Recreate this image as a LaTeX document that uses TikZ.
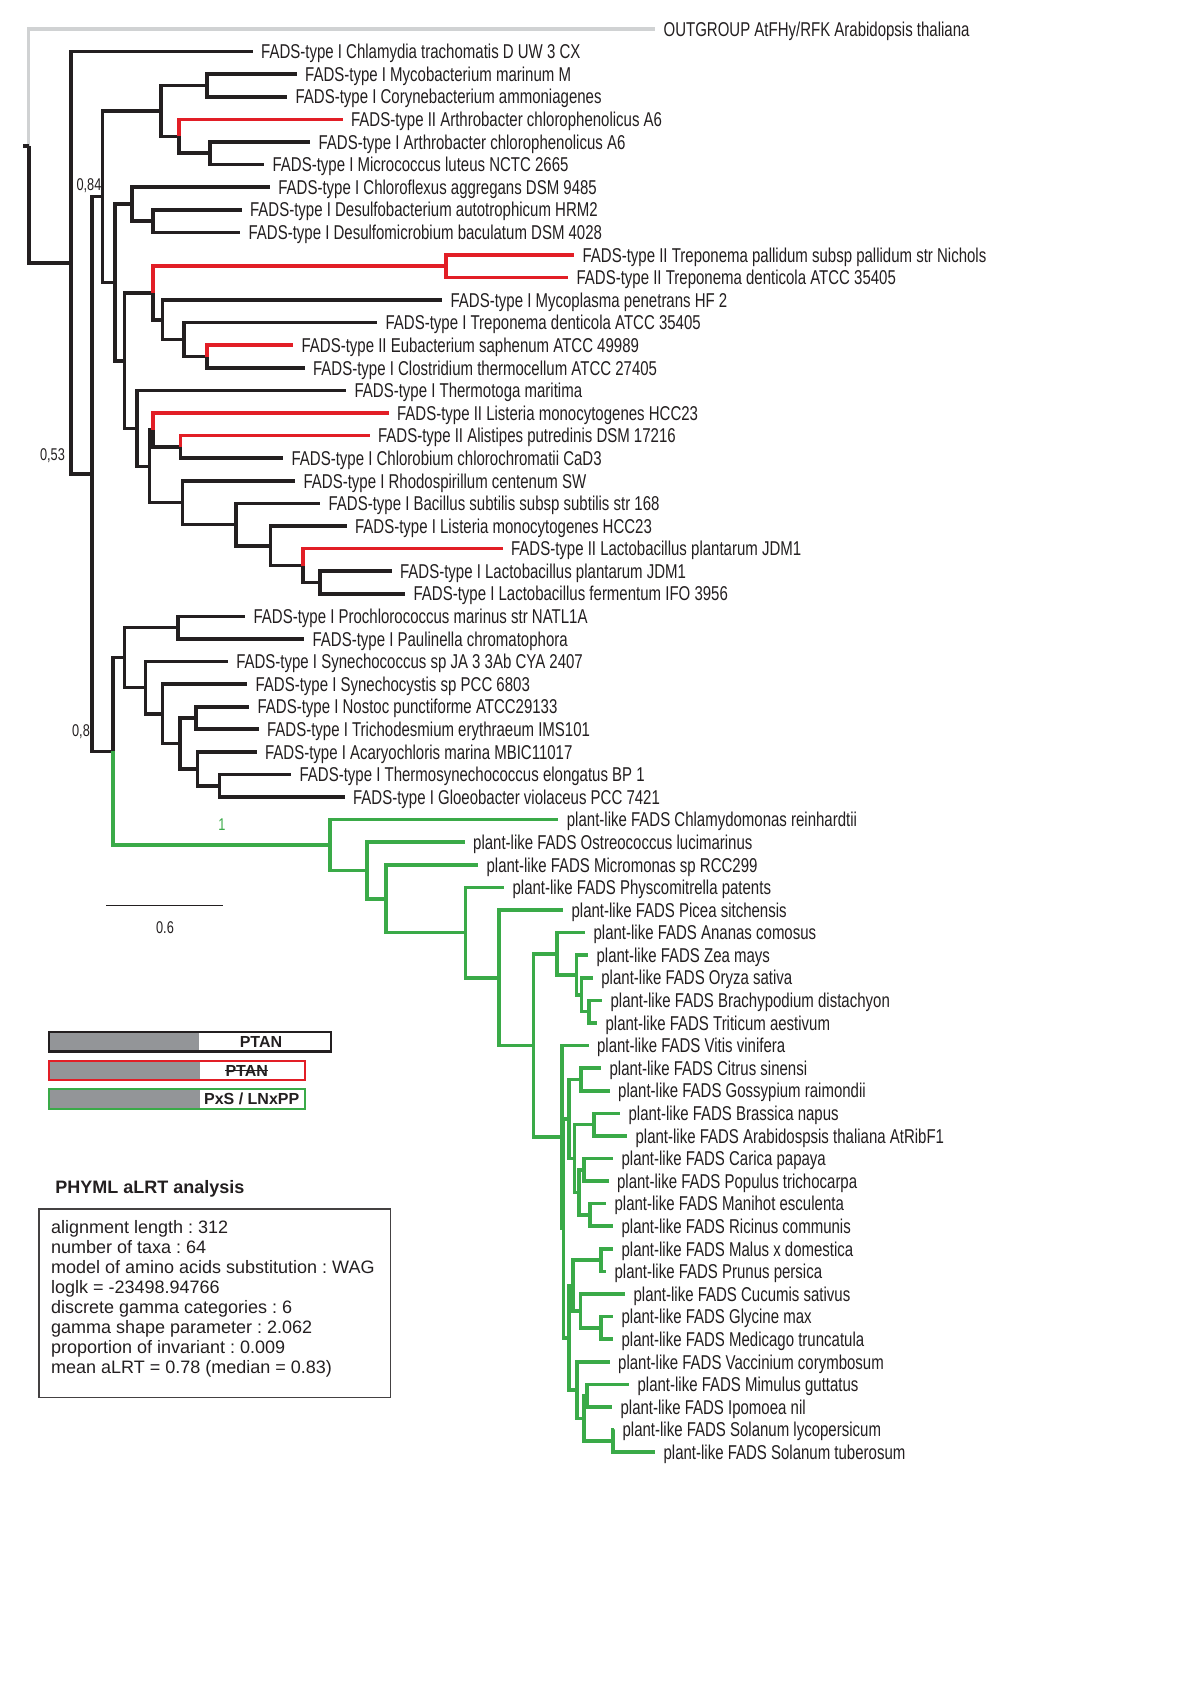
\documentclass[tikz,border=0pt]{standalone}
\usepackage{fontspec}
\setmainfont{Liberation Sans}
\newfontfamily\treefont[FakeStretch=0.75]{Liberation Sans}
\frenchspacing

\definecolor{treeblack}{RGB}{35,31,32}
\definecolor{treered}{RGB}{226,30,38}
\definecolor{treegreen}{RGB}{58,170,72}
\definecolor{outgray}{RGB}{208,210,211}
\definecolor{barfill}{RGB}{147,149,152}

\tikzset{
  br/.style={line width=1.8pt, treeblack, line cap=butt, line join=miter},
  brred/.style={br, treered},
  brgreen/.style={br, treegreen},
  brout/.style={br, outgray, line width=1.6pt},
  leaf/.style={anchor=base west, inner sep=0pt, xshift=4.1pt, yshift=-3.6pt,
    font=\treefont\fontsize{10}{10}\selectfont, text=treeblack},
  support/.style={inner sep=0pt, font=\treefont\fontsize{8.5}{8.5}\selectfont, text=treeblack},
  legtext/.style={inner sep=0pt, font=\bfseries\fontsize{8}{8}\selectfont, text=treeblack},
  infotext/.style={anchor=base west, inner sep=0pt, font=\fontsize{9}{9}\selectfont, text=treeblack},
}

\begin{document}
\begin{tikzpicture}[x=0.5pt, y=-11.295pt]
  \useasboundingbox (0,-1.2837) rectangle (1200,73.8823);
  \fill[white] (0,-1.2837) rectangle (1200,73.8823);

  % Inner nodes (x in px, y in rows)
  \coordinate (root) at (28.7,5.1747);
  \coordinate (stub) at (23,5.1747);
  \coordinate (n1) at (70.8,10.3494);
  \coordinate (n2) at (91.8,19.6987);
  \coordinate (n3) at (102.6,7.4209);
  \coordinate (nA) at (160.7,3.625);
  \coordinate (n5) at (206.7,2.5);
  \coordinate (n6) at (179,4.75);
  \coordinate (n7) at (209.7,5.5);
  \coordinate (n4) at (114.8,11.2168);
  \coordinate (n8) at (132,7.75);
  \coordinate (n9) at (153,8.5);
  \coordinate (n10) at (124.4,14.6836);
  \coordinate (n11) at (153,11.6875);
  \coordinate (nT) at (445.8,10.5);
  \coordinate (n12) at (162.6,12.875);
  \coordinate (n13) at (183.7,13.75);
  \coordinate (n14) at (206.7,14.5);
  \coordinate (n15) at (137,17.6797);
  \coordinate (n16) at (149.3,19.3594);
  \coordinate (n17) at (153,17.75);
  \coordinate (n18) at (180.5,18.5);
  \coordinate (n19) at (182.5,20.9688);
  \coordinate (n20) at (236,21.9375);
  \coordinate (n21) at (270.5,22.875);
  \coordinate (n22) at (303,23.75);
  \coordinate (n23) at (320,24.5);
  % cyanobacteria
  \coordinate (n30) at (112.9,31.9765);
  \coordinate (n31) at (124.4,27.8281);
  \coordinate (n32) at (178,26.5);
  \coordinate (n33) at (145.4,29.1563);
  \coordinate (n34) at (162.6,30.3125);
  \coordinate (n35) at (180,31.625);
  \coordinate (n36) at (196,30.5);
  \coordinate (n37) at (197.5,32.75);
  \coordinate (n38) at (219.3,33.5);
  % plants
  \coordinate (p1) at (330,36.1248);
  \coordinate (p2) at (367,37.2495);
  \coordinate (p3) at (386,38.499);
  \coordinate (p4) at (465.3,39.998);
  \coordinate (p5) at (499,41.996);
  \coordinate (p6) at (533.5,44.9922);
  \coordinate (m1) at (557,40.9375);
  \coordinate (m2) at (576.3,41.875);
  \coordinate (m3) at (581.5,42.75);
  \coordinate (m4) at (589,43.5);
  \coordinate (e1) at (562,49.0469);
  \coordinate (e2) at (563.5,53.0938);
  \coordinate (r1) at (569,48.25);
  \coordinate (cg) at (581,46.5);
  \coordinate (r1b) at (574.5,50);
  \coordinate (ba) at (594,48.5);
  \coordinate (r1c) at (579,51.5);
  \coordinate (cp) at (584,50.5);
  \coordinate (mr) at (590,52.5);
  \coordinate (e9) at (569,57.9375);
  \coordinate (r2) at (573,55.625);
  \coordinate (mp) at (601,54.5);
  \coordinate (cgm) at (580.5,56.75);
  \coordinate (gm) at (601,57.5);
  \coordinate (a1) at (577,60.25);
  \coordinate (a2) at (584,61.5);
  \coordinate (a3) at (587,60.5);
  \coordinate (a4) at (613,62.5);

  % Leaves and taxon names
  \coordinate (l0) at (655,0);
  \node[leaf] (t0) at (l0) {OUTGROUP AtFHy/RFK Arabidopsis thaliana};
  \foreach \i/\x/\name in {
    1/252.6/FADS-type I Chlamydia trachomatis D UW 3 CX,
    2/296.6/FADS-type I Mycobacterium marinum M,
    3/287/FADS-type I Corynebacterium ammoniagenes,
    4/342.5/FADS-type II Arthrobacter chlorophenolicus A6,
    5/310/FADS-type I Arthrobacter chlorophenolicus A6,
    6/264/FADS-type I Micrococcus luteus NCTC 2665,
    7/269.8/FADS-type I Chloroflexus aggregans DSM 9485,
    8/241.5/FADS-type I Desulfobacterium autotrophicum HRM2,
    9/240/FADS-type I Desulfomicrobium baculatum DSM 4028,
    10/574/FADS-type II Treponema pallidum subsp pallidum str Nichols,
    11/568/FADS-type II Treponema denticola ATCC 35405,
    12/442/FADS-type I Mycoplasma penetrans HF 2,
    13/377/FADS-type I Treponema denticola ATCC 35405,
    14/293/FADS-type II Eubacterium saphenum ATCC 49989,
    15/304.5/FADS-type I Clostridium thermocellum ATCC 27405,
    16/346/FADS-type I Thermotoga maritima,
    17/388.5/FADS-type II Listeria monocytogenes HCC23,
    18/369.5/FADS-type II Alistipes putredinis DSM 17216,
    19/283/FADS-type I Chlorobium chlorochromatii CaD3,
    20/295/FADS-type I Rhodospirillum centenum SW,
    21/320/FADS-type I Bacillus subtilis subsp subtilis str 168,
    22/346.5/FADS-type I Listeria monocytogenes HCC23,
    23/502.5/FADS-type II Lactobacillus plantarum JDM1,
    24/391.5/FADS-type I Lactobacillus plantarum JDM1,
    25/405/FADS-type I Lactobacillus fermentum IFO 3956,
    26/245/FADS-type I Prochlorococcus marinus str NATL1A,
    27/304/FADS-type I Paulinella chromatophora,
    28/227.7/FADS-type I Synechococcus sp JA 3 3Ab CYA 2407,
    29/247/FADS-type I Synechocystis sp PCC 6803,
    30/249/FADS-type I Nostoc punctiforme ATCC29133,
    31/258.5/FADS-type I Trichodesmium erythraeum IMS101,
    32/256.5/FADS-type I Acaryochloris marina MBIC11017,
    33/291/FADS-type I Thermosynechococcus elongatus BP 1,
    34/344.5/FADS-type I Gloeobacter violaceus PCC 7421,
    35/558.3/plant-like FADS Chlamydomonas reinhardtii,
    36/464.6/plant-like FADS Ostreococcus lucimarinus,
    37/478/plant-like FADS Micromonas sp RCC299,
    38/504/plant-like FADS Physcomitrella patents,
    39/563/plant-like FADS Picea sitchensis,
    40/585/plant-like FADS Ananas comosus,
    41/588/plant-like FADS Zea mays,
    42/592.8/plant-like FADS Oryza sativa,
    43/602/plant-like FADS Brachypodium distachyon,
    44/597/plant-like FADS Triticum aestivum,
    45/588.5/plant-like FADS Vitis vinifera,
    46/601/plant-like FADS Citrus sinensi,
    47/609.6/plant-like FADS Gossypium raimondii,
    48/620/plant-like FADS Brassica napus,
    49/627/plant-like FADS Arabidospsis thaliana AtRibF1,
    50/613/plant-like FADS Carica papaya,
    51/608.5/plant-like FADS Populus trichocarpa,
    52/606/plant-like FADS Manihot esculenta,
    53/613/plant-like FADS Ricinus communis,
    54/613/plant-like FADS Malus x domestica,
    55/606/plant-like FADS Prunus persica,
    56/625/plant-like FADS Cucumis sativus,
    57/613/plant-like FADS Glycine max,
    58/613/plant-like FADS Medicago truncatula,
    59/609.6/plant-like FADS Vaccinium corymbosum,
    60/629/plant-like FADS Mimulus guttatus,
    61/612/plant-like FADS Ipomoea nil,
    62/614/plant-like FADS Solanum lycopersicum,
    63/655/plant-like FADS Solanum tuberosum}{
    \coordinate (l\i) at (\x,\i);
    \node[leaf] (t\i) at (l\i) {\name};
  }

  % Branches
  \draw[brout] (root) |- (l0);
  \draw[br] (stub) -- (root);
  \foreach \pa/\ch in {root/n1, n1/l1, n1/n2, n2/n3, n3/nA, nA/n5, n5/l2, n5/l3,
      nA/n6, n6/n7, n7/l5, n7/l6, n3/n4, n4/n8, n8/l7, n8/n9, n9/l8, n9/l9,
      n4/n10, n10/n11, n11/n12, n12/l12, n12/n13, n13/l13, n13/n14, n14/l15,
      n10/n15, n15/l16, n15/n16, n16/n17, n17/n18, n18/l19, n16/n19, n19/l20,
      n19/n20, n20/l21, n20/n21, n21/l22, n21/n22, n22/n23, n23/l24, n23/l25,
      n2/n30, n30/n31, n31/n32, n32/l26, n32/l27, n31/n33, n33/l28, n33/n34,
      n34/l29, n34/n35, n35/n36, n36/l30, n36/l31, n35/n37, n37/l32, n37/n38,
      n38/l33, n38/l34}
    \draw[br] (\pa) |- (\ch);
  \foreach \pa/\ch in {n6/l4, n11/nT, nT/l10, nT/l11, n14/l14, n17/l17, n18/l18, n22/l23}
    \draw[brred] (\pa) |- (\ch);
  \foreach \pa/\ch in {n30/p1, p1/l35, p1/p2, p2/l36, p2/p3, p3/l37, p3/p4, p4/l38,
      p4/p5, p5/l39, p5/p6, p6/m1, m1/l40, m1/m2, m2/l41, m2/m3, m3/l42, m3/m4,
      m4/l43, m4/l44, p6/e1, e1/l45, e1/e2, e2/r1, r1/cg, cg/l46, cg/l47, r1/r1b,
      r1b/ba, ba/l48, ba/l49, r1b/r1c, r1c/cp, cp/l50, cp/l51, r1c/mr, mr/l52,
      mr/l53, e2/e9, e9/r2, r2/mp, mp/l54, mp/l55, r2/cgm, cgm/l56, cgm/gm,
      gm/l57, gm/l58, e9/a1, a1/l59, a1/a2, a2/a3, a3/l60, a3/l61, a2/a4,
      a4/l62, a4/l63}
    \draw[brgreen] (\pa) |- (\ch);

  % Support values
  \node[support] (s053) at (52.5,18.90) {0,53};
  \node[support] (s084) at (89,6.95) {0,84};
  \node[support] (s08) at (81,31.12) {0,8};
  \node[support, text=treegreen] (s1) at (222,35.24) {1};

  \begin{scope}[y=-0.5pt, yshift=14.5pt]
    % Scale bar
    \coordinate (sbl) at (106,905.5);
    \coordinate (sbr) at (223,905.5);
    \draw[line width=0.75pt, treeblack] (sbl) -- (sbr);
    \node[support] (sbt) at (165,928) {0.6};

    % Legend bars
    \fill[barfill] (49,1032) rectangle (199,1051.4);
    \draw[line width=1.35pt, treeblack] (49,1032) rectangle (331,1051.4);
    \node[legtext] (leg1) at (261,1042) {PTAN};

    \fill[barfill] (49,1061.3) rectangle (200,1079.7);
    \draw[line width=1.1pt, treered] (49,1061.3) rectangle (304.7,1079.7);
    \node[legtext] (leg2) at (246.7,1070.5) {PTAN};
    \draw[line width=0.6pt, treeblack] (leg2.west) -- (leg2.east);

    \fill[barfill] (49,1089.3) rectangle (200,1108.7);
    \draw[line width=1.1pt, treegreen] (49,1089.3) rectangle (304.7,1108.7);
    \node[legtext] (leg3) at (251.7,1099) {PxS / LNxPP};

    % Analysis summary
    \node[anchor=west, inner sep=0pt, font=\bfseries\fontsize{9}{9}\selectfont, text=treeblack]
      (title) at (55,1189) {PHYML aLRT analysis};
    \draw[line width=0.6pt, treeblack!85] (39,1209) rectangle (390.7,1397.7);
    \foreach \txt [count=\k from 0] in {alignment length : 312, number of taxa : 64,
        model of amino acids substitution : WAG, loglk = -23498.94766,
        discrete gamma categories : 6, gamma shape parameter : 2.062,
        proportion of invariant : 0.009, mean aLRT = 0.78 (median = 0.83)}
      \node[infotext] (info\k) at (50.7,1233+20.1*\k) {\txt};
  \end{scope}
\end{tikzpicture}
\end{document}
